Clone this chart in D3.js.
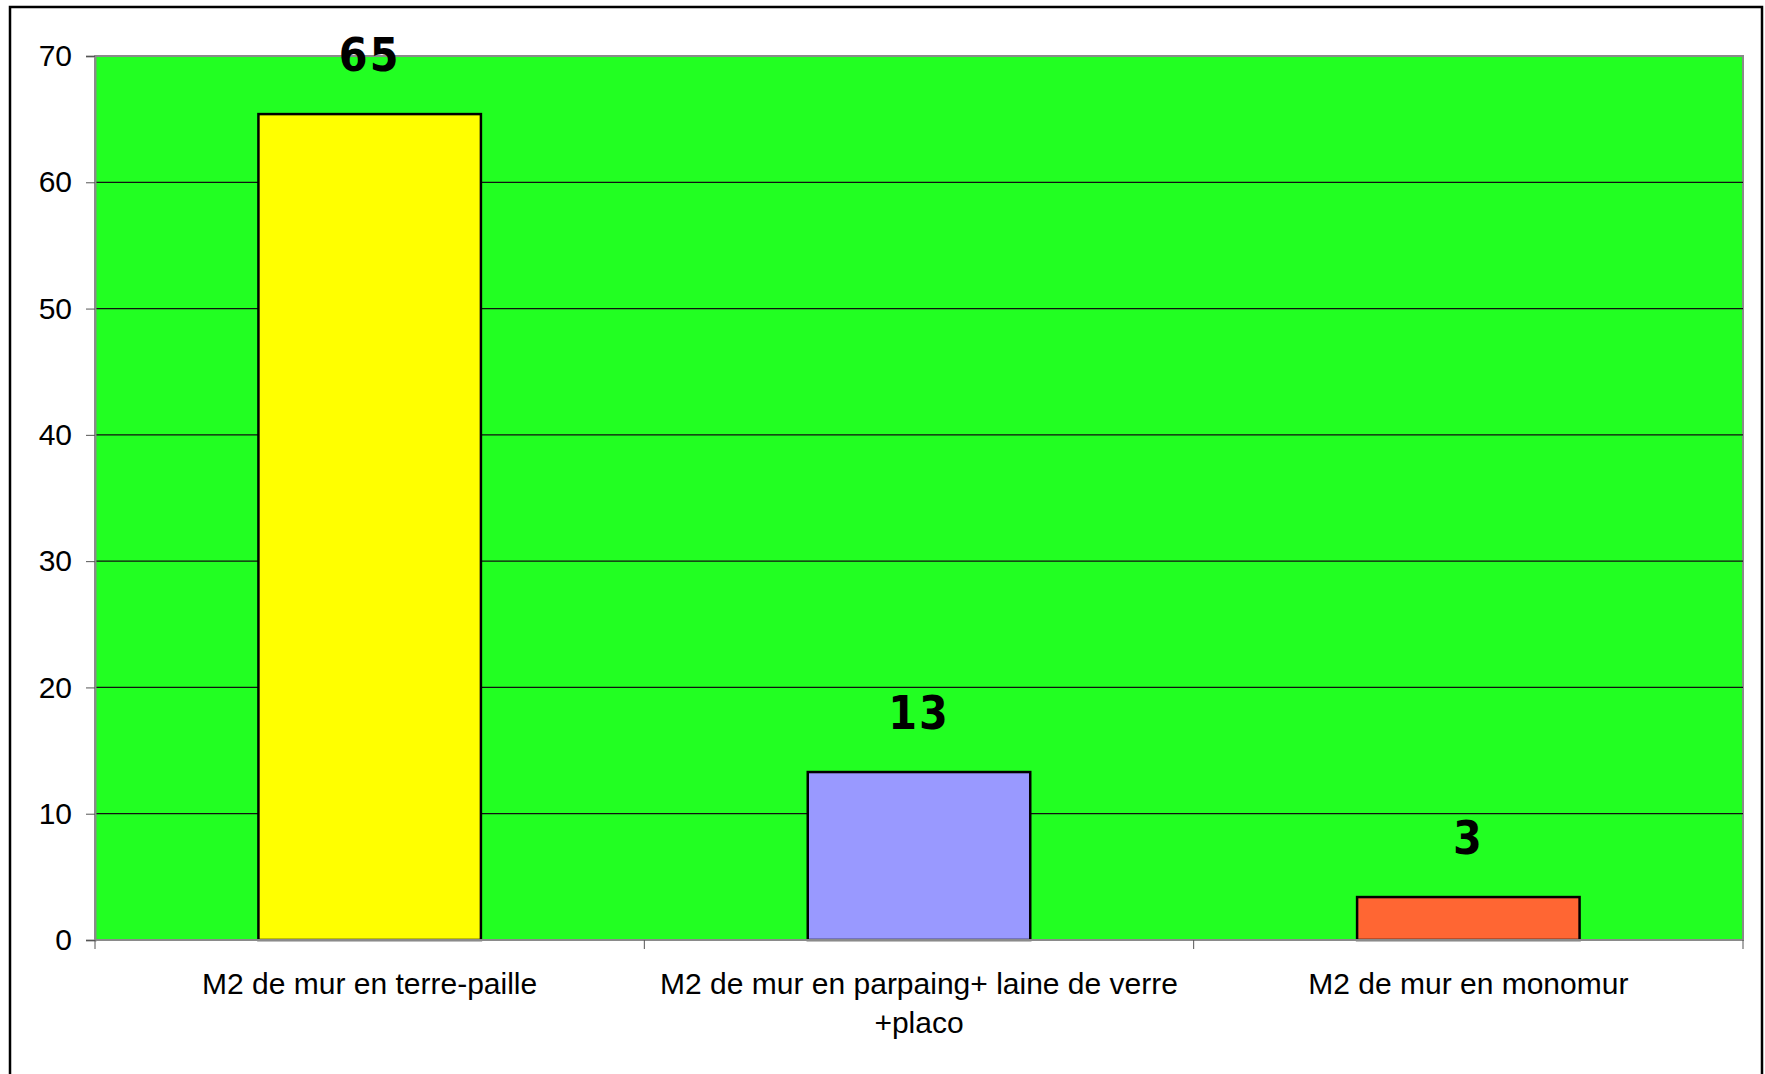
<!doctype html>
<html>
<head>
<meta charset="UTF-8">
<title>M2 de mur</title>
<script src="https://d3js.org/d3.v7.min.js"></script>
<style>
  body { margin: 0; background: #fff; }
  svg text { font-family: "Liberation Sans", Arial, sans-serif; }
</style>
</head>
<body>
<svg id="chart" width="1765" height="1074"></svg>
<script>
// data
var categories = ["M2 de mur en terre-paille", "M2 de mur en parpaing+ laine de verre +placo", "M2 de mur en monomur"];
var values = [65.4, 13.3, 3.4];
var barColors = ["#ffff00", "#9999ff", "#ff6633"];
var yTicks = [0, 10, 20, 30, 40, 50, 60, 70];

var svg = d3.select("#chart");

// outer chart frame (bottom edge runs off the page)
svg.append("rect")
    .attr("x", 10).attr("y", 7)
    .attr("width", 1752).attr("height", 1200)
    .attr("fill", "none")
    .attr("stroke", "#000")
    .attr("stroke-width", 2.5);

var plotL = 95, plotR = 1743, plotT = 56, plotB = 940;

var x = d3.scaleBand().domain(categories).range([plotL, plotR]).padding(0);
var y = d3.scaleLinear().domain([0, 70]).range([plotB, plotT]);

// plot area
svg.append("rect")
    .attr("x", plotL).attr("y", plotT)
    .attr("width", plotR - plotL).attr("height", plotB - plotT)
    .attr("fill", "#22ff22")
    .attr("stroke", "#8a8a8a")
    .attr("stroke-width", 2);

// gridlines
svg.append("g")
    .selectAll("line")
    .data(yTicks.filter(function (d) { return d > 0 && d < 70; }))
    .enter().append("line")
    .attr("x1", plotL).attr("x2", plotR)
    .attr("y1", function (d) { return y(d); })
    .attr("y2", function (d) { return y(d); })
    .attr("stroke", "#111")
    .attr("stroke-width", 1.2);

// bars
var barW = x.bandwidth() * 0.405;
svg.append("g")
    .selectAll("rect")
    .data(values)
    .enter().append("rect")
    .attr("x", function (d, i) { return x(categories[i]) + (x.bandwidth() - barW) / 2; })
    .attr("y", function (d) { return y(d); })
    .attr("width", barW)
    .attr("height", function (d) { return plotB - y(d); })
    .attr("fill", function (d, i) { return barColors[i]; })
    .attr("stroke", "#000")
    .attr("stroke-width", 2.5);

// value labels
svg.append("g")
    .selectAll("text")
    .data(values)
    .enter().append("text")
    .attr("x", function (d, i) { return x(categories[i]) + x.bandwidth() / 2; })
    .attr("y", function (d) { return y(d) - 43; })
    .attr("text-anchor", "middle")
    .style("font-family", "'Comic Sans MS', 'DejaVu Sans Condensed', sans-serif")
    .style("font-weight", "bold")
    .style("font-size", "46px")
    .style("letter-spacing", "2px")
    .text(function (d) { return d3.format(".0f")(Math.floor(d)); });

// y axis
var yAxis = d3.axisLeft(y).tickValues(yTicks).tickSize(9).tickPadding(14);
var gy = svg.append("g")
    .attr("transform", "translate(" + plotL + ",0)")
    .call(yAxis);
gy.select(".domain").attr("stroke", "#8a8a8a").attr("stroke-width", 2);
gy.selectAll(".tick line").attr("stroke", "#555");
gy.selectAll(".tick text")
    .style("font-size", "30px")
    .attr("fill", "#000");

// x axis: ticks at band edges
svg.append("line")
    .attr("x1", plotL).attr("x2", plotR)
    .attr("y1", plotB).attr("y2", plotB)
    .attr("stroke", "#8a8a8a").attr("stroke-width", 2);
var edges = categories.map(function (c) { return x(c); }).concat([plotR]);
svg.append("g")
    .selectAll("line")
    .data(edges)
    .enter().append("line")
    .attr("x1", function (d) { return d; })
    .attr("x2", function (d) { return d; })
    .attr("y1", plotB).attr("y2", plotB + 9)
    .attr("stroke", "#555");

// category labels, wrapped to the band width
var labels = svg.append("g")
    .selectAll("text")
    .data(categories)
    .enter().append("text")
    .attr("x", function (d) { return x(d) + x.bandwidth() / 2; })
    .attr("y", 994)
    .attr("text-anchor", "middle")
    .style("font-size", "30px")
    .attr("fill", "#000");

labels.each(function (d) {
    var text = d3.select(this);
    var words = d.split(" ");
    var line = [];
    var cx = text.attr("x");
    var tspan = text.append("tspan").attr("x", cx).attr("dy", 0);
    words.forEach(function (w) {
        line.push(w);
        tspan.text(line.join(" "));
        if (tspan.node().getComputedTextLength() > x.bandwidth() - 10 && line.length > 1) {
            line.pop();
            tspan.text(line.join(" "));
            line = [w];
            tspan = text.append("tspan").attr("x", cx).attr("dy", 39).text(w);
        }
    });
});
</script>
</body>
</html>
